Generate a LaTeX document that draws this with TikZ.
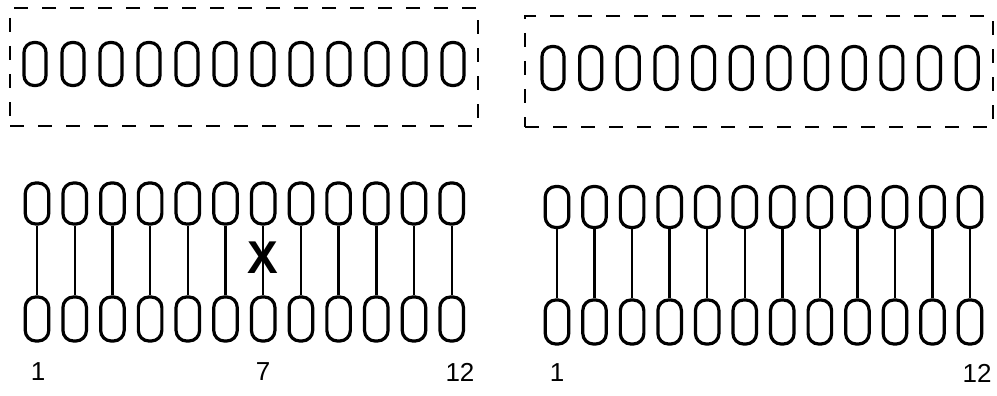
\documentclass[tikz,border=0pt]{standalone}
\usepackage{fontspec}
\setmainfont{Liberation Sans}
\begin{document}
\begin{tikzpicture}[x=1pt,y=-1pt,
  oval/.style={draw, line width=3.2pt, rounded corners=10pt, minimum width=22pt, minimum height=43pt, inner sep=0pt},
  ovalb/.style={oval, minimum width=23.5pt, minimum height=41pt, rounded corners=10.5pt},
  ovalc/.style={ovalb, minimum height=44pt},
  frame/.style={draw, dashed, dash pattern=on 14pt off 14pt, line width=2.4pt, inner sep=0pt},
  link/.style={line width=2.4pt},
  lab/.style={font=\fontsize{26}{26}\selectfont, inner sep=0pt}]
\useasboundingbox (0,0) rectangle (997,396);
% top frames
\node[frame, minimum width=468pt, minimum height=118pt] (fL) at (244,67) {};
\node[frame, minimum width=468pt, minimum height=111pt] (fR) at (759,71.5) {};
\foreach \i in {1,...,12}{
  \node[oval] (tl\i) at ({35+38*(\i-1)},64) {};
  \node[oval] (tr\i) at ({553+37.65*(\i-1)},68) {};
  % bottom left pairs
  \node[ovalb] (al\i) at ({37+37.7*(\i-1)},203.5) {};
  \node[ovalc] (bl\i) at ({37+37.7*(\i-1)},319) {};
  \draw[link] (al\i) -- (bl\i);
  % bottom right pairs
  \node[ovalb] (ar\i) at ({557+37.55*(\i-1)},207) {};
  \node[ovalc] (br\i) at ({557+37.55*(\i-1)},322) {};
  \draw[link] (ar\i) -- (br\i);
}
\node[lab, font=\fontsize{46}{46}\selectfont\bfseries] (x) at (263,258) {X};
\node[lab] (n1) at (38,372) {1};
\node[lab] (n7) at (263,372) {7};
\node[lab] (n12) at (460,372) {12};
\node[lab] (m1) at (557,373) {1};
\node[lab] (m12) at (977,373) {12};
\end{tikzpicture}
\end{document}
